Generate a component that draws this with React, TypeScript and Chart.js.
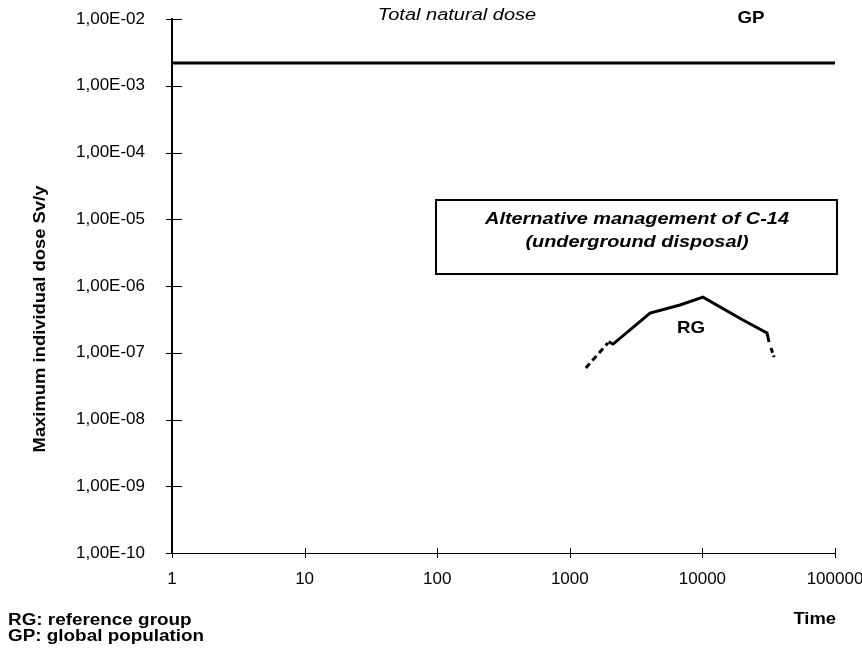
import React, { useEffect, useRef } from "react";
import { Chart, registerables } from "chart.js";

Chart.register(...registerables);

// ---- data ----
const yTickValues = [1e-10, 1e-9, 1e-8, 1e-7, 1e-6, 1e-5, 1e-4, 1e-3, 1e-2];
const yTickLabels = ["1,00E-10", "1,00E-09", "1,00E-08", "1,00E-07", "1,00E-06", "1,00E-05", "1,00E-04", "1,00E-03", "1,00E-02"];
const xTickValues = [1, 10, 100, 1000, 10000, 100000];
const xTickLabels = ["1", "10", "100", "1000", "10000", "100000"];

const gpTime = [1, 100000];
const gpDose = [2.2e-3, 2.2e-3];

const rgLeadTime = [1320, 1940];
const rgLeadDose = [5.9e-8, 1.4e-7];
const rgTime = [1960, 2120, 4030, 6780, 10100, 20200, 30700, 31800];
const rgDose = [1.45e-7, 1.35e-7, 3.94e-7, 5.2e-7, 6.8e-7, 3.1e-7, 1.98e-7, 1.45e-7];
const rgTailTime = [32900, 34700];
const rgTailDose = [1.18e-7, 8.6e-8];

const FONT = "'Liberation Sans', Arial, Helvetica, sans-serif";

function pts(xs: number[], ys: number[]) {
  return xs.map((x, i) => ({ x, y: ys[i] }));
}

function txt(
  ctx: CanvasRenderingContext2D,
  s: string,
  x: number,
  y: number,
  font: string,
  align: CanvasTextAlign = "center",
  sx = 1.15,
  rot = 0
) {
  ctx.save();
  ctx.translate(x, y);
  if (rot) ctx.rotate(rot);
  ctx.scale(sx, 1);
  ctx.font = font;
  ctx.fillStyle = "#000";
  ctx.textAlign = align;
  ctx.textBaseline = "middle";
  ctx.fillText(s, 0, 0);
  ctx.restore();
}

const decorPlugin = {
  id: "decor",
  afterDraw(chart: any) {
    const ctx: CanvasRenderingContext2D = chart.ctx;
    const xs = chart.scales.x;
    const ys = chart.scales.y;
    const a = chart.chartArea;
    ctx.save();
    ctx.strokeStyle = "#000";
    ctx.lineWidth = 1;
    // y tick marks
    yTickValues.forEach((v) => {
      const py = Math.round(ys.getPixelForValue(v)) + 0.5;
      ctx.beginPath();
      ctx.moveTo(a.left - 6, py);
      ctx.lineTo(a.left + 10, py);
      ctx.stroke();
    });
    // x tick marks
    xTickValues.forEach((v) => {
      const px = Math.round(xs.getPixelForValue(v)) + 0.5;
      ctx.beginPath();
      ctx.moveTo(px, a.bottom - 5);
      ctx.lineTo(px, a.bottom + 5);
      ctx.stroke();
    });

    // annotation box
    ctx.lineWidth = 2;
    ctx.strokeRect(436, 200, 401, 74);
    txt(ctx, "Alternative management of C-14", 637, 219, `italic bold 17px ${FONT}`, "center", 1.17);
    txt(ctx, "(underground disposal)", 637, 242, `italic bold 17px ${FONT}`, "center", 1.17);

    // labels
    txt(ctx, "Total natural dose", 457, 16, `italic 16px ${FONT}`, "center", 1.25);
    txt(ctx, "GP", 751, 18, `bold 17px ${FONT}`, "center", 1.1);
    txt(ctx, "RG", 691, 328, `bold 17px ${FONT}`, "center", 1.1);

    // axis title
    txt(ctx, "Maximum individual dose Sv/y", 41, 319, `bold 16px ${FONT}`, "center", 1.15, -Math.PI / 2);
    txt(ctx, "Time", 836, 620, `bold 16px ${FONT}`, "right", 1.15);

    // footnotes
    txt(ctx, "RG: reference group", 8, 621, `bold 16px ${FONT}`, "left", 1.18);
    txt(ctx, "GP: global population", 8, 637, `bold 16px ${FONT}`, "left", 1.18);
    ctx.restore();
  },
};

function zeroPad(s: any) {
  s.paddingTop = 0;
  s.paddingBottom = 0;
  s.paddingLeft = 0;
  s.paddingRight = 0;
}

export default function App() {
  const ref = useRef<HTMLCanvasElement | null>(null);

  useEffect(() => {
    if (!ref.current) return;
    const black = "#000";
    const chart = new Chart(ref.current, {
      type: "line",
      data: {
        datasets: [
          { label: "GP", data: pts(gpTime, gpDose), borderColor: black, borderWidth: 3, pointRadius: 0, clip: false as any },
          { label: "RG lead", data: pts(rgLeadTime, rgLeadDose), borderColor: black, borderWidth: 3, borderDash: [6, 4], pointRadius: 0 },
          { label: "RG", data: pts(rgTime, rgDose), borderColor: black, borderWidth: 3, pointRadius: 0 },
          { label: "RG tail", data: pts(rgTailTime, rgTailDose), borderColor: black, borderWidth: 3, borderDash: [5, 3], pointRadius: 0 },
        ],
      },
      options: {
        animation: false,
        responsive: false,
        devicePixelRatio: 1,
        layout: { padding: { top: 19, right: 27, left: 0, bottom: 0 }, autoPadding: false },
        plugins: { legend: { display: false }, tooltip: { enabled: false } },
        scales: {
          x: {
            type: "logarithmic",
            min: 1,
            max: 100000,
            afterBuildTicks: (s: any) => {
              s.ticks = xTickValues.map((v) => ({ value: v }));
            },
            afterFit: (s: any) => {
              s.height = 99;
              zeroPad(s);
            },
            ticks: {
              callback: (v: any) => {
                const i = xTickValues.indexOf(Number(v));
                return i >= 0 ? xTickLabels[i] : "";
              },
              font: { family: FONT, size: 17 },
              color: black,
              padding: 16,
              maxRotation: 0,
              autoSkip: false,
            },
            grid: { display: false, drawTicks: false },
            border: { display: true, color: black, width: 1 },
          },
          y: {
            type: "logarithmic",
            min: 1e-10,
            max: 1e-2,
            afterBuildTicks: (s: any) => {
              s.ticks = yTickValues.map((v) => ({ value: v }));
            },
            afterFit: (s: any) => {
              s.width = 172;
              zeroPad(s);
            },
            ticks: {
              callback: (v: any) => {
                const i = yTickValues.findIndex((t) => Math.abs(Math.log10(t) - Math.log10(Number(v))) < 1e-6);
                return i >= 0 ? yTickLabels[i] : "";
              },
              font: { family: FONT, size: 17 },
              color: black,
              padding: 27,
              autoSkip: false,
            },
            grid: { display: false, drawTicks: false },
            border: { display: true, color: black, width: 2 },
          },
        },
      },
      plugins: [decorPlugin],
    });
    return () => chart.destroy();
  }, []);

  return (
    <div style={{ position: "fixed", left: 0, top: 0, width: 862, height: 652, background: "#fff" }}>
      <canvas ref={ref} width={862} height={652} style={{ width: 862, height: 652, display: "block" }} />
    </div>
  );
}
